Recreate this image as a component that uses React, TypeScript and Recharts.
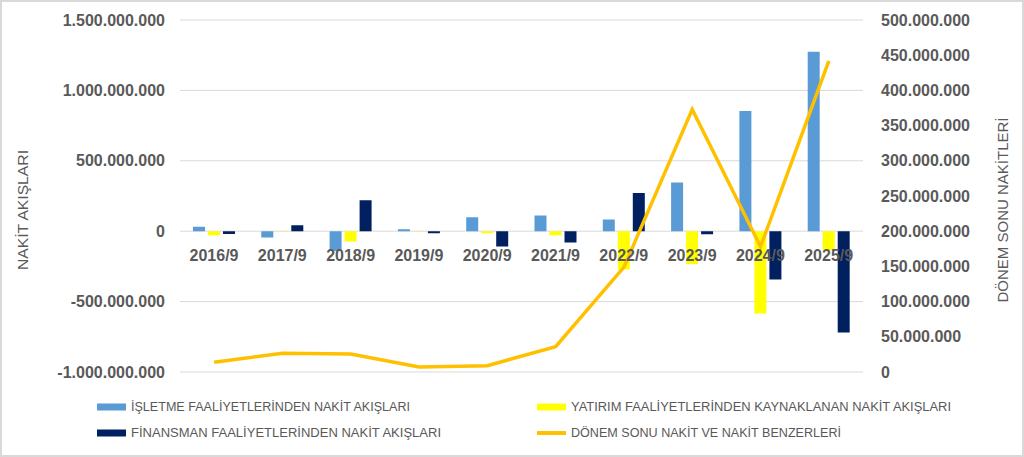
import React from 'react';
import { ComposedChart, Bar, Line, XAxis, YAxis, CartesianGrid, Legend, LabelList } from 'recharts';

const categories = ['2016/9', '2017/9', '2018/9', '2019/9', '2020/9', '2021/9', '2022/9', '2023/9', '2024/9', '2025/9'];
const isletme = [31000000, -45000000, -140000000, 14000000, 99000000, 111000000, 83000000, 345000000, 854000000, 1275000000];
const yatirim = [-28000000, -3000000, -73000000, -2000000, -14000000, -28000000, -272000000, -234000000, -584000000, -135000000];
const finansman = [-19000000, 43000000, 220000000, -15000000, -109000000, -80000000, 272000000, -21000000, -343000000, -719000000];
const donemSonu = [13700000, 26500000, 25600000, 7100000, 9000000, 36000000, 149000000, 373000000, 178000000, 442000000];

const leftTicks = [-1000000000, -500000000, 0, 500000000, 1000000000, 1500000000];
const rightTicks = [0, 50000000, 100000000, 150000000, 200000000, 250000000, 300000000, 350000000, 400000000, 450000000, 500000000];

const seriesNames = [
  'İŞLETME FAALİYETLERİNDEN NAKİT AKIŞLARI',
  'YATIRIM FAALİYETLERİNDEN KAYNAKLANAN NAKİT AKIŞLARI',
  'FİNANSMAN FAALİYETLERİNDEN NAKİT AKIŞLARI',
  'DÖNEM SONU NAKİT VE NAKİT BENZERLERİ',
];
const colors = ['#5B9BD5', '#FFFF00', '#002060', '#FFC000'];

const BAR_SIZE = 12;
const BAR_GAP = 3;

const data = categories.map((cat, i) => ({
  cat,
  isletme: isletme[i],
  yatirim: yatirim[i],
  finansman: finansman[i],
  donem: donemSonu[i],
}));

const fmt = (v: number) => {
  const s = Math.abs(v).toString().replace(/\B(?=(\d{3})+(?!\d))/g, '.');
  return (v < 0 ? '-' : '') + s;
};

const FONT = "'Liberation Sans', Arial, sans-serif";
const GRAY = '#595959';

// Rendered from the last bar of each group: the group centre is one bar + gap to its left,
// and the edge of the bar that touches the left axis' zero line gives the label's baseline.
const CatLabel = (props: any) => {
  const { x, y, width, height, value, index } = props;
  const cx = x + width / 2 - (BAR_SIZE + BAR_GAP);
  const top = Math.min(y, y + height);
  const bottom = Math.max(y, y + height);
  const zero = finansman[index] < 0 ? top : bottom;
  return (
    <text x={cx} y={zero + 24.5} textAnchor="middle" dominantBaseline="central" fill={GRAY}
      fontSize={16} fontWeight="bold" fontFamily={FONT}>
      {value}
    </text>
  );
};

const LegendContent = () => {
  const items = [
    { x: 97, y: 407, w: 279, kind: 'rect', i: 0 },
    { x: 537, y: 407, w: 380, kind: 'rect', i: 1 },
    { x: 97, y: 433, w: 310, kind: 'rect', i: 2 },
    { x: 537, y: 433, w: 270, kind: 'line', i: 3 },
  ];
  return (
    <svg width={1024} height={60} style={{ display: 'block' }}>
      {items.map((it) => {
        const cy = it.y - 390;
        return (
          <g key={it.i}>
            {it.kind === 'rect' ? (
              <rect x={it.x} y={cy - 3.5} width={29} height={7} fill={colors[it.i]} />
            ) : (
              <rect x={it.x} y={cy - 2} width={29} height={4} fill={colors[it.i]} />
            )}
            <text x={it.x + 34} y={cy} dominantBaseline="central" fill={GRAY} fontSize={12}
              fontFamily={FONT} textLength={it.w} lengthAdjust="spacingAndGlyphs">
              {seriesNames[it.i]}
            </text>
          </g>
        );
      })}
    </svg>
  );
};

const LeftTitle = (props: any) => {
  const vb = props.viewBox || {};
  const cx = vb.x + 22;
  const cy = vb.y + vb.height / 2 + 14;
  return (
    <text x={cx} y={cy} transform={`rotate(-90 ${cx} ${cy})`} textAnchor="middle" dominantBaseline="central"
      fill={GRAY} fontSize={15.5} fontFamily={FONT} textLength={120} lengthAdjust="spacingAndGlyphs">
      NAKİT AKIŞLARI
    </text>
  );
};

const RightTitle = (props: any) => {
  const vb = props.viewBox || {};
  const cx = vb.x + 139;
  const cy = vb.y + vb.height / 2 + 14;
  return (
    <text x={cx} y={cy} transform={`rotate(-90 ${cx} ${cy})`} textAnchor="middle" dominantBaseline="central"
      fill={GRAY} fontSize={15.5} fontFamily={FONT} textLength={185} lengthAdjust="spacingAndGlyphs">
      DÖNEM SONU NAKİTLERİ
    </text>
  );
};

export default function App() {
  return (
    <div style={{ position: 'absolute', left: 0, top: 0, width: 1024, height: 457, background: '#fff' }}>
      <div style={{ position: 'absolute', left: 0, top: 0, width: 1020, height: 453, border: '2px solid #d9d9d9', pointerEvents: 'none', zIndex: 2 }} />
      <ComposedChart width={1024} height={457} data={data} margin={{ top: 20, right: 0, left: 0, bottom: 84 }}
        barSize={BAR_SIZE} barGap={BAR_GAP}>
        <CartesianGrid yAxisId="left" vertical={false} stroke="#d9d9d9" strokeWidth={1} />
        <XAxis dataKey="cat" height={1} axisLine={false} tickLine={false} tick={false} />
        <YAxis yAxisId="left" width={180} domain={[-1000000000, 1500000000]} ticks={leftTicks} interval={0}
          tickFormatter={fmt} axisLine={false} tickLine={false} tickSize={0} tickMargin={15}
          tick={{ fill: GRAY, fontSize: 16, fontWeight: 'bold', fontFamily: FONT }}
          label={<LeftTitle />} allowDataOverflow />
        <YAxis yAxisId="right" orientation="right" width={161} domain={[0, 500000000]} ticks={rightTicks}
          interval={0} tickFormatter={fmt} axisLine={false} tickLine={false} tickSize={0} tickMargin={18}
          tick={{ fill: GRAY, fontSize: 16, fontWeight: 'bold', fontFamily: FONT, textAnchor: 'start' }}
          label={<RightTitle />} allowDataOverflow />
        <Legend verticalAlign="middle" align="center" layout="horizontal" content={<LegendContent />}
          wrapperStyle={{ top: 390, left: 0, width: 1024, height: 60 }} />
        <Bar yAxisId="left" dataKey="isletme" name={seriesNames[0]} fill={colors[0]} isAnimationActive={false} />
        <Bar yAxisId="left" dataKey="yatirim" name={seriesNames[1]} fill={colors[1]} isAnimationActive={false} />
        <Bar yAxisId="left" dataKey="finansman" name={seriesNames[2]} fill={colors[2]} isAnimationActive={false}>
          <LabelList dataKey="cat" content={<CatLabel />} />
        </Bar>
        <Line yAxisId="right" dataKey="donem" name={seriesNames[3]} stroke={colors[3]} strokeWidth={3.5}
          dot={false} activeDot={false} type="linear" isAnimationActive={false} />
      </ComposedChart>
    </div>
  );
}
